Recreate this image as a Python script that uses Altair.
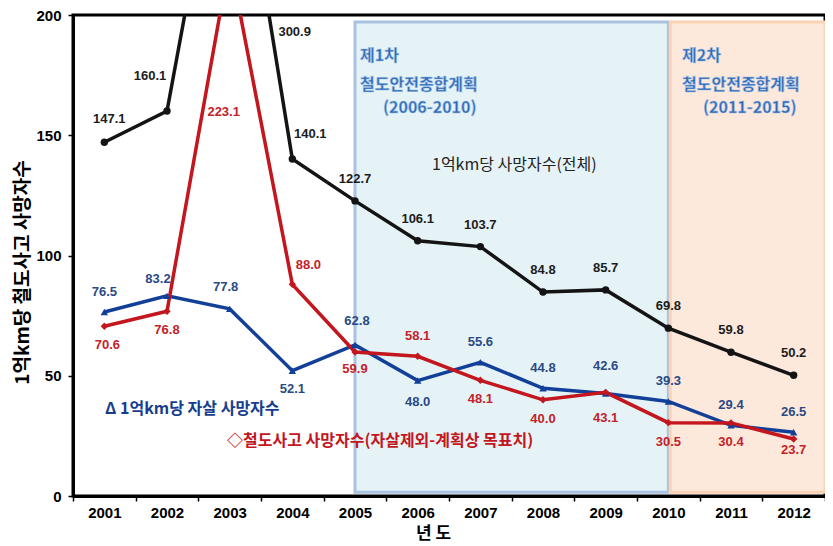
import altair as alt
import pandas as pd

# ---------------- data ----------------
YEARS = list(range(2001, 2013))
TOTAL = [147.1, 160.1, 300.9, 140.1, 122.7, 106.1, 103.7, 84.8, 85.7, 69.8, 59.8, 50.2]
SUICIDE = [76.5, 83.2, 77.8, 52.1, 62.8, 48.0, 55.6, 44.8, 42.6, 39.3, 29.4, 26.5]
ACCIDENT = [70.6, 76.8, 223.1, 88.0, 59.9, 58.1, 48.1, 40.0, 43.1, 30.5, 30.4, 23.7]

SERIES = ["전체", "자살", "사고"]
LINE_COLORS = ["#141414", "#123f98", "#c3161e"]
LABEL_COLORS = ["#1c1c1c", "#2a4a85", "#c3222a"]
SHAPES = ["circle", "triangle-up", "diamond"]

PLANS = ["제1차", "제2차"]
PLAN_START = [2005, 2010.03]
PLAN_END = [2010, 2012.5]
PLAN_TOP = [197.1, 197.1]
PLAN_BOTTOM = [1.6, 1.6]
PLAN_FILL = ["#e5f3f7", "#fde9dc"]
PLAN_STROKE = ["#a8c2df", "#fad2b4"]

# label offsets (px) : default per series, exceptions per (series, year)
DEFAULT_OFFSET = {"전체": (0, -22), "자살": (0, -20), "사고": (0, 19)}
SPECIAL_OFFSET = {
    ("전체", 2001): (5, -23),
    ("전체", 2002): (-17, -35),
    ("전체", 2003): (65, 17),
    ("전체", 2004): (18, -25),
    ("자살", 2002): (-9, -17),
    ("자살", 2003): (-4, -22),
    ("자살", 2004): (0, 18),
    ("자살", 2005): (2, -24),
    ("자살", 2006): (0, 21),
    ("자살", 2009): (0, -28),
    ("사고", 2001): (3, 19),
    ("사고", 2003): (-6, 97),
    ("사고", 2004): (16, -19),
    ("사고", 2005): (0, 17),
    ("사고", 2006): (0, -20),
    ("사고", 2009): (0, 26),
    ("사고", 2012): (0, 11),
}

rows = []
for s, lc, vals in zip(SERIES, LABEL_COLORS, [TOTAL, SUICIDE, ACCIDENT]):
    for yr, v in zip(YEARS, vals):
        dx, dy = SPECIAL_OFFSET.get((s, yr), DEFAULT_OFFSET[s])
        rows.append({"series": s, "year": yr, "value": v, "label": f"{v:.1f}",
                     "lc": lc, "grp": f"{dx}_{dy}", "dx": dx, "dy": dy})
df = pd.DataFrame(rows)

plans = pd.DataFrame({"plan": PLANS, "start": PLAN_START, "end": PLAN_END,
                      "top": PLAN_TOP, "bottom": PLAN_BOTTOM,
                      "fill": PLAN_FILL, "stroke": PLAN_STROKE})

# ---------------- scales / axes ----------------
KFONT = "Noto Sans CJK KR"
NFONT = "Liberation Sans"

TICK_VALUES = [2000.5 + 0.5 * i for i in range(25)]
xscale = alt.Scale(domain=[2000.5, 2012.5], nice=False, zero=False)
yscale = alt.Scale(domain=[0, 200], nice=False)

x_axis = alt.Axis(values=TICK_VALUES,
                  labelExpr="datum.value % 1 == 0 ? format(datum.value, 'd') : ''",
                  labelOverlap=False, labelFlush=False,
                  tickColor={"condition": {"test": "datum.value % 1 == 0", "value": "transparent"},
                             "value": "#000000"},
                  tickSize=5, tickWidth=1.5, labelPadding=4,
                  labelFont=NFONT, labelFontSize=15, labelFontWeight="bold", labelColor="#000",
                  titleFont=KFONT, titleFontSize=17, titleFontWeight="bold", titleColor="#000",
                  titlePadding=5, titleX=360, grid=False, domainColor="#000", domainWidth=3)
y_axis = alt.Axis(values=[0, 50, 100, 150, 200], tickSize=5, tickColor="#000", tickWidth=1.5,
                  labelFont=NFONT, labelFontSize=15, labelFontWeight="bold", labelColor="#000",
                  labelPadding=7,
                  titleFont=KFONT, titleFontSize=19, titleFontWeight="bold", titleColor="#000",
                  titlePadding=3, titleY=257, grid=False, domainColor="#000", domainWidth=3)

XT = "년 도"
YT = "1억km당 철도사고 사망자수"


def X(field):
    return alt.X(field, scale=xscale, axis=x_axis, title=XT)


def Y(field):
    return alt.Y(field, scale=yscale, axis=y_axis, title=YT)


# ---------------- layers ----------------
boxes = alt.Chart(plans).mark_rect(strokeWidth=3).encode(
    x=X("start:Q"), x2="end:Q", y=Y("top:Q"), y2="bottom:Q",
    fill=alt.Fill("fill:N", scale=None),
    stroke=alt.Stroke("stroke:N", scale=None),
)

color = alt.Color("series:N", scale=alt.Scale(domain=SERIES, range=LINE_COLORS), legend=None)

lines = alt.Chart(df).mark_line(strokeWidth=3.5, clip=True).encode(
    x=X("year:Q"), y=Y("value:Q"), color=color, detail="series:N"
)
points = alt.Chart(df).mark_point(filled=True, size=55, opacity=1, clip=True).encode(
    x=X("year:Q"), y=Y("value:Q"), color=color,
    shape=alt.Shape("series:N", scale=alt.Scale(domain=SERIES, range=SHAPES), legend=None),
)

label_layers = []
for g, sub in df.groupby("grp"):
    dx, dy = int(sub["dx"].iloc[0]), int(sub["dy"].iloc[0])
    label_layers.append(
        alt.Chart(df).transform_filter(alt.datum.grp == g)
        .transform_calculate(ly="min(datum.value, 200)")
        .mark_text(dx=dx, dy=dy, align="center", baseline="middle",
                   font=NFONT, fontSize=13, fontWeight="bold")
        .encode(x=X("year:Q"), y=Y("ly:Q"), text="label:N",
                color=alt.Color("lc:N", scale=None))
    )

# annotations (pixel positions inside the plot area)
ann_plan = pd.DataFrame({
    "t": ["제1차", "철도안전종합계획", "(2006-2010)", "제2차", "철도안전종합계획", "(2011-2015)"],
    "px": [287, 287, 310, 609, 609, 630],
    "py": [41, 70, 93, 41, 70, 93],
})
plan_text = alt.Chart(ann_plan).mark_text(
    align="left", baseline="middle", font=KFONT, fontSize=16, fontWeight="bold",
    color="#2a63b0", stroke="#9fc0e6", strokeWidth=0.6).encode(
    x=alt.X("px:Q", scale=None), y=alt.Y("py:Q", scale=None), text="t:N")

ann_total = alt.Chart(pd.DataFrame({"t": ["1억km당 사망자수(전체)"], "px": [359], "py": [150]})).mark_text(
    align="left", baseline="middle", font=KFONT, fontSize=16, color="#222").encode(
    x=alt.X("px:Q", scale=None), y=alt.Y("py:Q", scale=None), text="t:N")

ann_suicide = alt.Chart(pd.DataFrame({"t": ["Δ  1억km당 자살 사망자수"], "px": [32], "py": [394]})).mark_text(
    align="left", baseline="middle", font=KFONT, fontSize=16, fontWeight="bold", color="#173e8e").encode(
    x=alt.X("px:Q", scale=None), y=alt.Y("py:Q", scale=None), text="t:N")

ann_acc = alt.Chart(pd.DataFrame({"t": ["◇철도사고 사망자수(자살제외-계획상 목표치)"], "px": [154], "py": [426]})).mark_text(
    align="left", baseline="middle", font=KFONT, fontSize=16, fontWeight="bold", color="#c3161e").encode(
    x=alt.X("px:Q", scale=None), y=alt.Y("py:Q", scale=None), text="t:N")

chart = alt.layer(
    boxes, lines, points, *label_layers, plan_text, ann_total, ann_suicide, ann_acc
).properties(
    width=752, height=481,
    autosize=alt.AutoSizeParams(type="none"),
    padding={"left": 65, "top": 7, "right": 0, "bottom": 50},
    background="white",
).configure_view(stroke="#000", strokeWidth=3)

chart.save("out.html", embed_options={"renderer": "svg", "actions": False})
